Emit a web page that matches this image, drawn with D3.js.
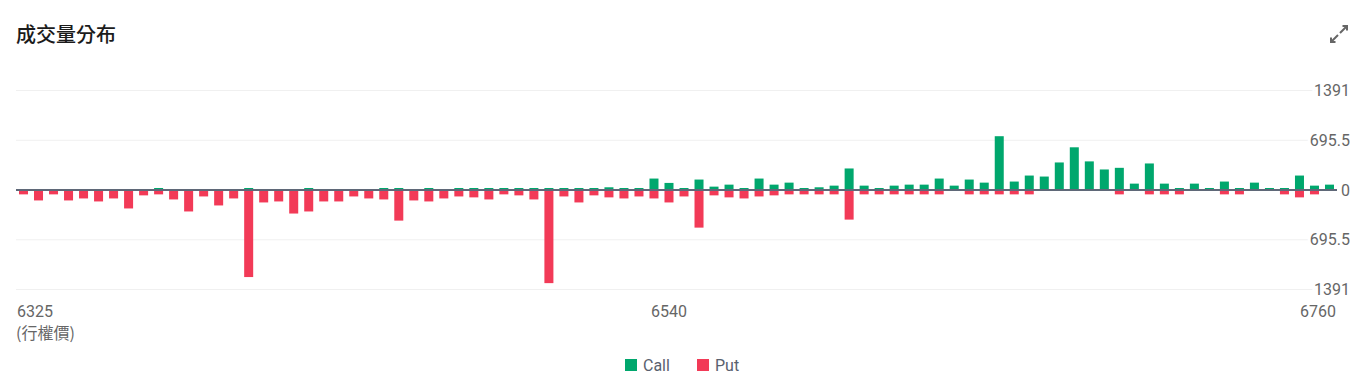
<!DOCTYPE html>
<html lang="zh-Hant">
<head>
<meta charset="UTF-8">
<title>成交量分布</title>
<script src="https://d3js.org/d3.v7.min.js"></script>
<style>
  html, body { margin: 0; padding: 0; background: #fff; }
  svg { display: block; font-family: Roboto, "Noto Sans CJK TC", sans-serif; }
</style>
</head>
<body>
<script>
// strikes 6325 .. 6760 step 5
const strikes = d3.range(6325, 6761, 5);

const callVol = [
  0, 0, 0, 0, 0, 0, 0, 0, 0, 28,
  0, 0, 0, 0, 0, 28, 0, 0, 0, 28,
  0, 0, 0, 0, 28, 28, 0, 28, 0, 28,
  28, 28, 28, 28, 28, 28, 28, 28, 28, 38,
  28, 28, 160, 99, 28, 146, 47, 75, 28, 160,
  75, 103, 28, 38, 61, 301, 61, 28, 61, 75,
  75, 160, 61, 146, 103, 752, 118, 202, 188, 385,
  597, 400, 287, 310, 89, 371, 89, 28, 89, 28,
  118, 28, 103, 28, 28, 202, 61, 75
];

const putVol = [
  61, 146, 61, 146, 118, 160, 118, 258, 75, 61,
  132, 300, 90, 216, 118, 1217, 174, 160, 329, 300,
  160, 160, 90, 118, 132, 428, 146, 160, 118, 90,
  103, 132, 61, 75, 132, 1302, 90, 174, 75, 103,
  118, 90, 118, 174, 90, 526, 75, 103, 118, 90,
  75, 61, 61, 61, 61, 414, 61, 61, 61, 61,
  61, 61, 0, 61, 61, 61, 61, 61, 0, 0,
  0, 0, 0, 61, 0, 61, 61, 61, 0, 0,
  61, 61, 0, 0, 61, 103, 61, 0
];

const yTicks = [1391, 695.5, 0, -695.5, -1391];
const xLabels = [6325, 6540, 6760];
const title = "成交量分布";
const xTitle = "(行權價)";
const legendItems = ["Call", "Put"];

const W = 1359, H = 386;
const GREEN = "#00a76d", RED = "#f23a57";

const svg = d3.select("body").append("svg")
  .attr("width", W).attr("height", H);

// title
svg.append("text")
  .attr("x", 16).attr("y", 42)
  .attr("font-family", "'Noto Sans CJK TC', sans-serif")
  .attr("font-size", 20).attr("font-weight", 500)
  .attr("fill", "#1b1b1b")
  .text(title);

// expand icon
const icon = svg.append("g")
  .attr("transform", "translate(1339,34)")
  .attr("stroke", "#666").attr("stroke-width", 2).attr("fill", "none");
icon.append("path").attr("d", "M1,-1 L8,-8 M3.5,-8 L8,-8 L8,-3.5");
icon.append("path").attr("d", "M-1,1 L-8,8 M-8,3.5 L-8,8 L-3.5,8");

const x = d3.scaleBand()
  .domain(strikes)
  .range([16, 1337])
  .paddingInner(0.4)
  .paddingOuter(0.2);

const y = d3.scaleLinear()
  .domain([-1391, 1391])
  .range([289.5, 90.5]);

// gridlines
svg.append("g")
  .selectAll("line")
  .data(yTicks.filter(d => d !== 0))
  .join("line")
  .attr("x1", 16).attr("x2", 1337)
  .attr("y1", d => y(d)).attr("y2", d => y(d))
  .attr("stroke", "#f0f0f0").attr("stroke-width", 1);

// bars
svg.append("g")
  .selectAll("rect")
  .data(strikes.map((s, i) => ({ s, v: callVol[i] })).filter(d => d.v > 0))
  .join("rect")
  .attr("x", d => x(d.s))
  .attr("width", x.bandwidth())
  .attr("y", d => y(d.v))
  .attr("height", d => y(0) - y(d.v))
  .attr("fill", GREEN);

svg.append("g")
  .selectAll("rect")
  .data(strikes.map((s, i) => ({ s, v: putVol[i] })).filter(d => d.v > 0))
  .join("rect")
  .attr("x", d => x(d.s))
  .attr("width", x.bandwidth())
  .attr("y", y(0))
  .attr("height", d => y(-d.v) - y(0))
  .attr("fill", RED);

// zero line
svg.append("line")
  .attr("x1", 16).attr("x2", 1337)
  .attr("y1", y(0)).attr("y2", y(0))
  .attr("stroke", "#5f6878").attr("stroke-width", 2);

// y labels (right side)
svg.append("g")
  .selectAll("text")
  .data(yTicks)
  .join("text")
  .attr("x", 1350)
  .attr("y", d => y(d))
  .attr("dy", "0.35em")
  .attr("text-anchor", "end")
  .attr("font-size", 16)
  .attr("fill", "#666")
  .attr("stroke", "#fff").attr("stroke-width", 6)
  .attr("paint-order", "stroke")
  .text(d => d3.format("~")(Math.abs(d)));

// x labels
svg.append("g")
  .selectAll("text")
  .data(xLabels)
  .join("text")
  .attr("x", (d, i) => i === 0 ? 17 : i === xLabels.length - 1 ? 1336 : x(d) + x.bandwidth() / 2)
  .attr("y", 317)
  .attr("text-anchor", (d, i) => i === 0 ? "start" : i === xLabels.length - 1 ? "end" : "middle")
  .attr("font-size", 16)
  .attr("fill", "#666")
  .text(d => d);

svg.append("text")
  .attr("x", 16).attr("y", 339)
  .attr("font-family", "'Noto Sans CJK TC', sans-serif")
  .attr("font-size", 16)
  .attr("fill", "#666")
  .text(xTitle);

// legend
const legend = svg.append("g").attr("transform", "translate(625,359)");
const lg = legend.selectAll("g")
  .data(legendItems)
  .join("g")
  .attr("transform", (d, i) => `translate(${i * 72},0)`);
lg.append("rect")
  .attr("width", 12).attr("height", 12)
  .attr("fill", (d, i) => i === 0 ? GREEN : RED);
lg.append("text")
  .attr("x", 18).attr("y", 6)
  .attr("dy", "0.35em")
  .attr("font-size", 16)
  .attr("fill", "#59606e")
  .text(d => d);
</script>
</body>
</html>
